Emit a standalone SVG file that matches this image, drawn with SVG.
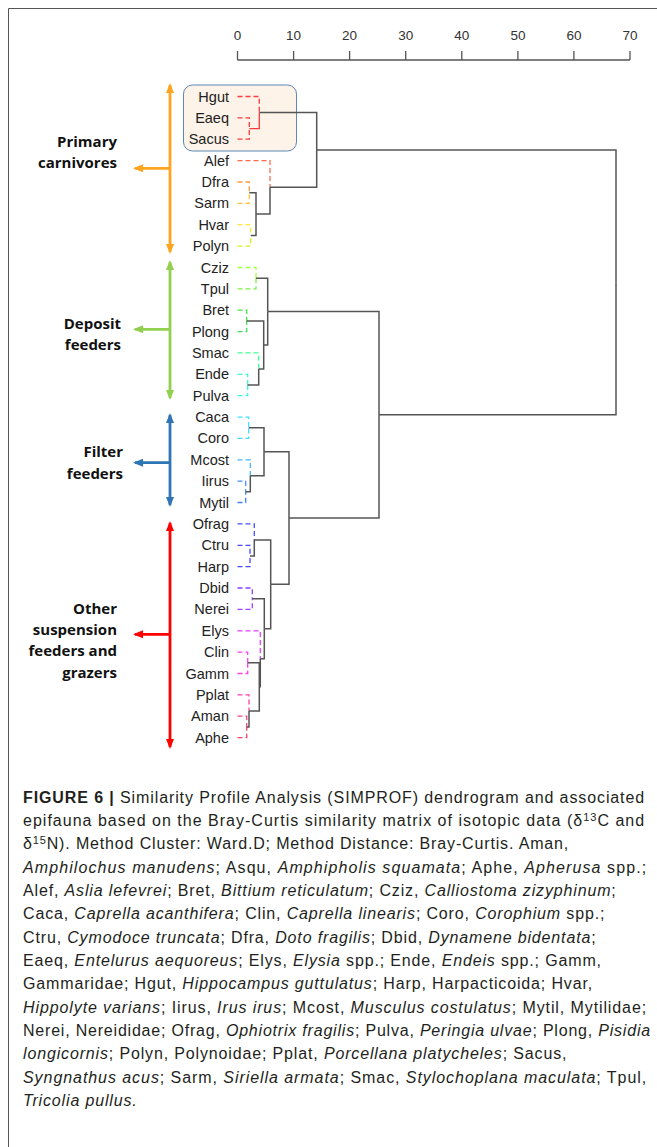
<svg xmlns="http://www.w3.org/2000/svg" width="657" height="1147" viewBox="0 0 657 1147">
<style>
.leaf{font-family:"Liberation Sans",Arial,sans-serif;font-size:14.5px;fill:#222;text-anchor:end}
.ax{font-family:"Liberation Sans",Arial,sans-serif;font-size:13.5px;fill:#333;text-anchor:middle}
.grp{font-family:"Open Sans","Noto Sans",sans-serif;font-size:15px;font-weight:700;fill:#111;text-anchor:end}
.cap{font-family:"Liberation Sans",Arial,sans-serif;font-size:16px;fill:#231f20;letter-spacing:0.85px}
.cap .i{font-style:italic}
.cap .b{font-weight:700}
.sup{font-size:11px}
.br{fill:none;stroke:#555;stroke-width:1.5}
.dl{fill:none;stroke-width:1.3;stroke-dasharray:5 3}
</style>
<defs>
<marker id="mo" viewBox="0 0 10 8" refX="8" refY="4" markerWidth="10" markerHeight="8" markerUnits="userSpaceOnUse" orient="auto-start-reverse"><path d="M0,0L10,4L0,8z" fill="#FFA41F"/></marker>
<marker id="mg" viewBox="0 0 10 8" refX="8" refY="4" markerWidth="10" markerHeight="8" markerUnits="userSpaceOnUse" orient="auto-start-reverse"><path d="M0,0L10,4L0,8z" fill="#92D050"/></marker>
<marker id="mb" viewBox="0 0 10 8" refX="8" refY="4" markerWidth="10" markerHeight="8" markerUnits="userSpaceOnUse" orient="auto-start-reverse"><path d="M0,0L10,4L0,8z" fill="#2E75B6"/></marker>
<marker id="mr" viewBox="0 0 10 8" refX="8" refY="4" markerWidth="10" markerHeight="8" markerUnits="userSpaceOnUse" orient="auto-start-reverse"><path d="M0,0L10,4L0,8z" fill="#FF0000"/></marker>
</defs>
<rect width="657" height="1147" fill="#fff"/>
<path d="M657,8.5H8.5V1147" fill="none" stroke="#555" stroke-width="1"/>

<g id="axis">
<path d="M237.5,60H630M237.5,51V60M293.6,51V60M349.6,51V60M405.7,51V60M461.8,51V60M517.9,51V60M573.9,51V60M630,51V60" fill="none" stroke="#555" stroke-width="1.3"/>
<text class="ax" x="237.5" y="39.5">0</text>
<text class="ax" x="293.6" y="39.5">10</text>
<text class="ax" x="349.6" y="39.5">20</text>
<text class="ax" x="405.7" y="39.5">30</text>
<text class="ax" x="461.8" y="39.5">40</text>
<text class="ax" x="517.9" y="39.5">50</text>
<text class="ax" x="573.9" y="39.5">60</text>
<text class="ax" x="630" y="39.5">70</text>
</g>

<g id="highlight"><rect x="183.5" y="85" width="113" height="66" rx="9" fill="#FDF3E8" stroke="#5B87B5" stroke-width="1"/></g>

<g id="group-primary">
<path d="M170,85V252" stroke="#FFA41F" stroke-width="2.8" fill="none" marker-start="url(#mo)" marker-end="url(#mo)"/>
<path d="M170,168.3H135" stroke="#FFA41F" stroke-width="2.8" fill="none" marker-end="url(#mo)"/>
<text class="grp" x="117" y="147">Primary</text>
<text class="grp" x="117" y="168">carnivores</text>
</g>
<g id="group-deposit">
<path d="M170,262V398" stroke="#92D050" stroke-width="2.8" fill="none" marker-start="url(#mg)" marker-end="url(#mg)"/>
<path d="M170,329.3H135" stroke="#92D050" stroke-width="2.8" fill="none" marker-end="url(#mg)"/>
<text class="grp" x="121" y="328.5">Deposit</text>
<text class="grp" x="121" y="349.5">feeders</text>
</g>
<g id="group-filter">
<path d="M170,415V505" stroke="#2E75B6" stroke-width="2.8" fill="none" marker-start="url(#mb)" marker-end="url(#mb)"/>
<path d="M170,462.7H135" stroke="#2E75B6" stroke-width="2.8" fill="none" marker-end="url(#mb)"/>
<text class="grp" x="123" y="457">Filter</text>
<text class="grp" x="123" y="478.5">feeders</text>
</g>
<g id="group-other">
<path d="M170,523V747" stroke="#FF0000" stroke-width="2.8" fill="none" marker-start="url(#mr)" marker-end="url(#mr)"/>
<path d="M170,634.3H135" stroke="#FF0000" stroke-width="2.8" fill="none" marker-end="url(#mr)"/>
<text class="grp" x="117" y="613.5">Other</text>
<text class="grp" x="117" y="635">suspension</text>
<text class="grp" x="117" y="656">feeders and</text>
<text class="grp" x="117" y="677.5">grazers</text>
</g>

<g id="connectors">
<g id="leaf-edges">
<path class="dl" stroke="#FF3B3B" d="M237.5,96.5H259.3V112.5"/>
<path class="dl" stroke="#FF3B3B" d="M237.5,117.9H249.3V128.55"/>
<path class="dl" stroke="#FF3B3B" d="M237.5,139.2H249.3V128.55"/>
<path class="dl" stroke="#FF6A4A" d="M237.5,160.6H270V187.3"/>
<path class="dl" stroke="#FF9A3A" d="M237.5,182H249.3V192.7"/>
<path class="dl" stroke="#FFC040" d="M237.5,203.4H249.3V192.7"/>
<path class="dl" stroke="#FFE838" d="M237.5,224.7H250.7V235.4"/>
<path class="dl" stroke="#D8F020" d="M237.5,246.1H250.7V235.4"/>
<path class="dl" stroke="#A8FF40" d="M237.5,267.5H256V278.15"/>
<path class="dl" stroke="#80F040" d="M237.5,288.8H256V278.15"/>
<path class="dl" stroke="#40E840" d="M237.5,310.2H246.7V320.9"/>
<path class="dl" stroke="#40E060" d="M237.5,331.6H246.7V320.9"/>
<path class="dl" stroke="#40FF90" d="M237.5,352.9H258.7V368.95"/>
<path class="dl" stroke="#40F8C8" d="M237.5,374.3H247.7V385"/>
<path class="dl" stroke="#40F0E8" d="M237.5,395.7H247.7V385"/>
<path class="dl" stroke="#40E0FF" d="M237.5,417.1H248.7V427.75"/>
<path class="dl" stroke="#40D8FF" d="M237.5,438.4H248.7V427.75"/>
<path class="dl" stroke="#40B8FF" d="M237.5,459.8H250.3V475.8"/>
<path class="dl" stroke="#4090FF" d="M237.5,481.2H245.7V491.85"/>
<path class="dl" stroke="#4080FF" d="M237.5,502.5H245.7V491.85"/>
<path class="dl" stroke="#4050FF" d="M237.5,523.9H254.3V539.9"/>
<path class="dl" stroke="#4848FF" d="M237.5,545.3H250V555.95"/>
<path class="dl" stroke="#4848FF" d="M237.5,566.6H250V555.95"/>
<path class="dl" stroke="#8A40FF" d="M237.5,588H252.3V598.7"/>
<path class="dl" stroke="#A040FF" d="M237.5,609.4H252.3V598.7"/>
<path class="dl" stroke="#E040FF" d="M237.5,630.8H260.3V658.8"/>
<path class="dl" stroke="#FF40F0" d="M237.5,652.1H247.7V662.8"/>
<path class="dl" stroke="#FF40E0" d="M237.5,673.5H247.7V662.8"/>
<path class="dl" stroke="#FF40A8" d="M237.5,694.9H249V710.9"/>
<path class="dl" stroke="#FF4088" d="M237.5,716.2H246.7V726.9"/>
<path class="dl" stroke="#FF4070" d="M237.5,737.6H246.7V726.9"/>
</g>
<g id="branches">
<path class="br" style="stroke:#FF3B3B;stroke-width:1.3" d="M249.3,128.55H259.3V112.5"/>
<path class="br" d="M259.3,112.5H316.7V149.9"/>
<path class="br" d="M249.3,192.7H256V214.05"/>
<path class="br" d="M250.7,235.4H256V214.05"/>
<path class="br" d="M256,214.05H270V187.3"/>
<path class="br" d="M270,187.3H316.7V149.9"/>
<path class="br" d="M316.7,149.9H616V282.35"/>
<path class="br" d="M256,278.15H267.7V311.5"/>
<path class="br" d="M246.7,320.9H263.7V344.9"/>
<path class="br" d="M247.7,385H258.7V368.95"/>
<path class="br" d="M258.7,368.95H263.7V344.9"/>
<path class="br" d="M263.7,344.9H267.7V311.5"/>
<path class="br" d="M267.7,311.5H379V414.8"/>
<path class="br" d="M248.7,427.75H264V451.8"/>
<path class="br" d="M245.7,491.85H250.3V475.8"/>
<path class="br" d="M250.3,475.8H264V451.8"/>
<path class="br" d="M264,451.8H289V518.05"/>
<path class="br" d="M250,555.95H254.3V539.9"/>
<path class="br" d="M254.3,539.9H270.7V584.3"/>
<path class="br" d="M252.3,598.7H264.3V628.75"/>
<path class="br" d="M247.7,662.8H259.3V686.85"/>
<path class="br" d="M246.7,726.9H249V710.9"/>
<path class="br" d="M249,710.9H259.3V686.85"/>
<path class="br" d="M259.3,686.85H260.3V658.8"/>
<path class="br" d="M260.3,658.8H264.3V628.75"/>
<path class="br" d="M264.3,628.75H270.7V584.3"/>
<path class="br" d="M270.7,584.3H289V518.05"/>
<path class="br" d="M289,518.05H379V414.8"/>
<path class="br" d="M379,414.8H616V282.35"/>
</g>
</g>

<g id="leaves">
<g id="n-Hgut"><text class="leaf" x="229" y="101.5">Hgut</text></g>
<g id="n-Eaeq"><text class="leaf" x="229" y="122.9">Eaeq</text></g>
<g id="n-Sacus"><text class="leaf" x="229" y="144.2">Sacus</text></g>
<g id="n-Alef"><text class="leaf" x="229" y="165.6">Alef</text></g>
<g id="n-Dfra"><text class="leaf" x="229" y="187">Dfra</text></g>
<g id="n-Sarm"><text class="leaf" x="229" y="208.4">Sarm</text></g>
<g id="n-Hvar"><text class="leaf" x="229" y="229.7">Hvar</text></g>
<g id="n-Polyn"><text class="leaf" x="229" y="251.1">Polyn</text></g>
<g id="n-Cziz"><text class="leaf" x="229" y="272.5">Cziz</text></g>
<g id="n-Tpul"><text class="leaf" x="229" y="293.8">Tpul</text></g>
<g id="n-Bret"><text class="leaf" x="229" y="315.2">Bret</text></g>
<g id="n-Plong"><text class="leaf" x="229" y="336.6">Plong</text></g>
<g id="n-Smac"><text class="leaf" x="229" y="357.9">Smac</text></g>
<g id="n-Ende"><text class="leaf" x="229" y="379.3">Ende</text></g>
<g id="n-Pulva"><text class="leaf" x="229" y="400.7">Pulva</text></g>
<g id="n-Caca"><text class="leaf" x="229" y="422.1">Caca</text></g>
<g id="n-Coro"><text class="leaf" x="229" y="443.4">Coro</text></g>
<g id="n-Mcost"><text class="leaf" x="229" y="464.8">Mcost</text></g>
<g id="n-Iirus"><text class="leaf" x="229" y="486.2">Iirus</text></g>
<g id="n-Mytil"><text class="leaf" x="229" y="507.5">Mytil</text></g>
<g id="n-Ofrag"><text class="leaf" x="229" y="528.9">Ofrag</text></g>
<g id="n-Ctru"><text class="leaf" x="229" y="550.3">Ctru</text></g>
<g id="n-Harp"><text class="leaf" x="229" y="571.6">Harp</text></g>
<g id="n-Dbid"><text class="leaf" x="229" y="593">Dbid</text></g>
<g id="n-Nerei"><text class="leaf" x="229" y="614.4">Nerei</text></g>
<g id="n-Elys"><text class="leaf" x="229" y="635.8">Elys</text></g>
<g id="n-Clin"><text class="leaf" x="229" y="657.1">Clin</text></g>
<g id="n-Gamm"><text class="leaf" x="229" y="678.5">Gamm</text></g>
<g id="n-Pplat"><text class="leaf" x="229" y="699.9">Pplat</text></g>
<g id="n-Aman"><text class="leaf" x="229" y="721.2">Aman</text></g>
<g id="n-Aphe"><text class="leaf" x="229" y="742.6">Aphe</text></g>
</g>

<g id="caption" class="cap">
<text x="23" y="802.5" textLength="622" lengthAdjust="spacing"><tspan class="b">FIGURE 6 |</tspan> Similarity Profile Analysis (SIMPROF) dendrogram and associated</text>
<text x="23" y="825.8" textLength="622" lengthAdjust="spacing">epifauna based on the Bray-Curtis similarity matrix of isotopic data (δ<tspan class="sup" dy="-5">13</tspan><tspan dy="5">C and</tspan></text>
<text x="23" y="849.2">δ<tspan class="sup" dy="-5">15</tspan><tspan dy="5">N). Method Cluster: Ward.D; Method Distance: Bray-Curtis. Aman,</tspan></text>
<text x="23" y="872.5" textLength="624" lengthAdjust="spacing"><tspan class="i">Amphilochus manudens</tspan>; Asqu, <tspan class="i">Amphipholis squamata</tspan>; Aphe, <tspan class="i">Apherusa</tspan> spp.;</text>
<text x="23" y="895.9">Alef, <tspan class="i">Aslia lefevrei</tspan>; Bret, <tspan class="i">Bittium reticulatum</tspan>; Cziz, <tspan class="i">Calliostoma zizyphinum</tspan>;</text>
<text x="23" y="919.2">Caca, <tspan class="i">Caprella acanthifera</tspan>; Clin, <tspan class="i">Caprella linearis</tspan>; Coro, <tspan class="i">Corophium</tspan> spp.;</text>
<text x="23" y="942.6">Ctru, <tspan class="i">Cymodoce truncata</tspan>; Dfra, <tspan class="i">Doto fragilis</tspan>; Dbid, <tspan class="i">Dynamene bidentata</tspan>;</text>
<text x="23" y="965.9">Eaeq, <tspan class="i">Entelurus aequoreus</tspan>; Elys, <tspan class="i">Elysia</tspan> spp.; Ende, <tspan class="i">Endeis</tspan> spp.; Gamm,</text>
<text x="23" y="989.3">Gammaridae; Hgut, <tspan class="i">Hippocampus guttulatus</tspan>; Harp, Harpacticoida; Hvar,</text>
<text x="23" y="1012.6" textLength="624" lengthAdjust="spacing"><tspan class="i">Hippolyte varians</tspan>; Iirus, <tspan class="i">Irus irus</tspan>; Mcost, <tspan class="i">Musculus costulatus</tspan>; Mytil, Mytilidae;</text>
<text x="23" y="1036" textLength="628" lengthAdjust="spacing">Nerei, Nereididae; Ofrag, <tspan class="i">Ophiotrix fragilis</tspan>; Pulva, <tspan class="i">Peringia ulvae</tspan>; Plong, <tspan class="i">Pisidia</tspan></text>
<text x="23" y="1059.3"><tspan class="i">longicornis</tspan>; Polyn, Polynoidae; Pplat, <tspan class="i">Porcellana platycheles</tspan>; Sacus,</text>
<text x="23" y="1082.7" textLength="624" lengthAdjust="spacing"><tspan class="i">Syngnathus acus</tspan>; Sarm, <tspan class="i">Siriella armata</tspan>; Smac, <tspan class="i">Stylochoplana maculata</tspan>; Tpul,</text>
<text x="23" y="1106"><tspan class="i">Tricolia pullus.</tspan></text>
</g>
</svg>
